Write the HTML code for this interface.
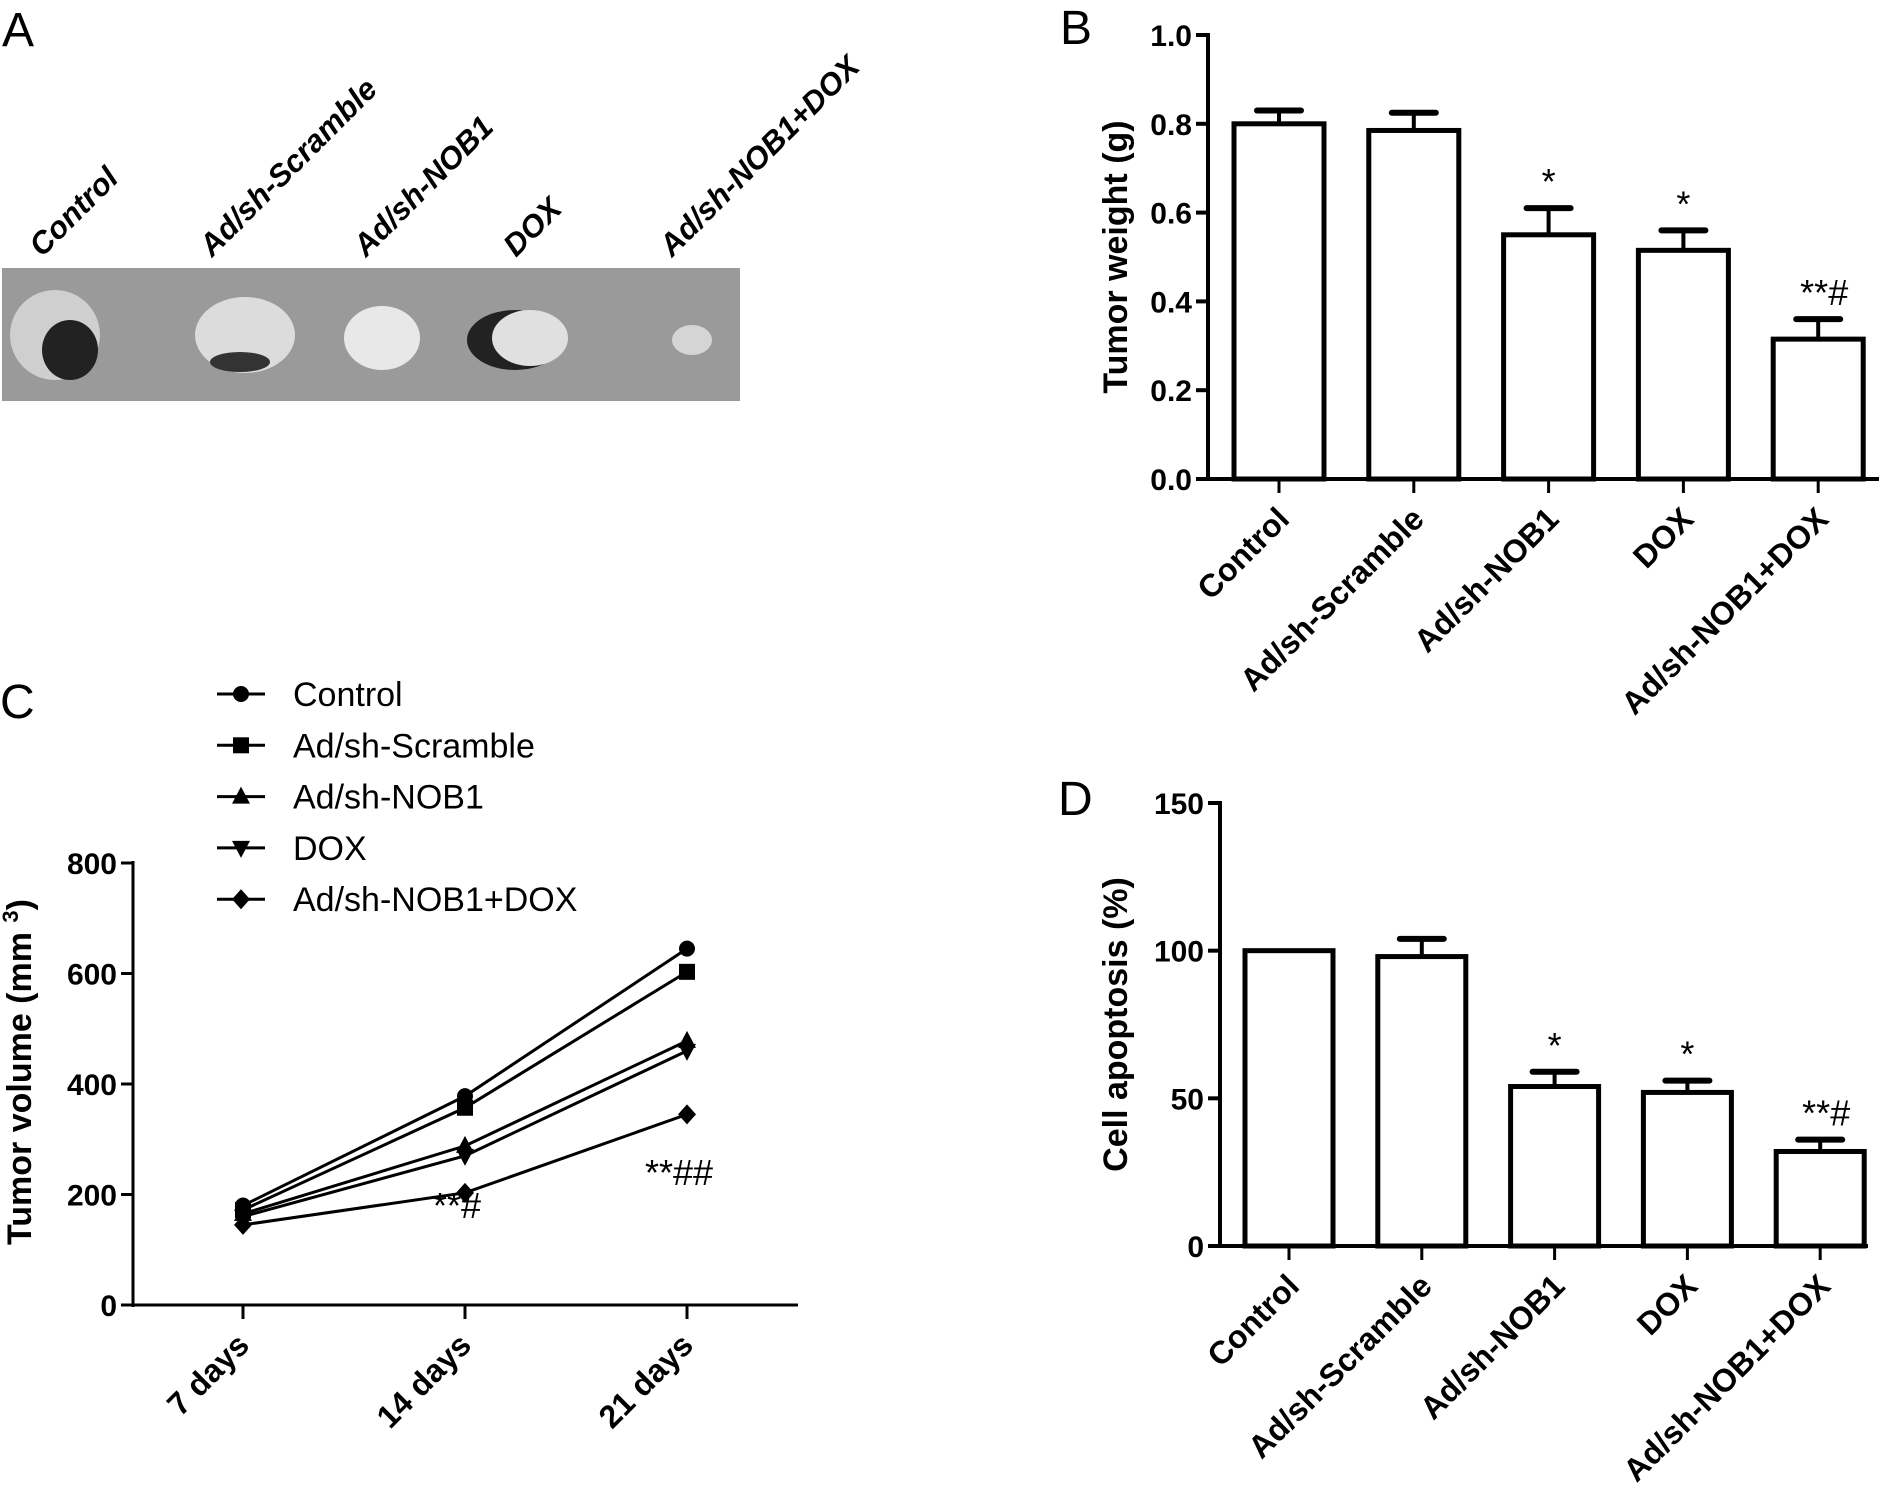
<!DOCTYPE html>
<html><head><meta charset="utf-8"><style>
html,body{margin:0;padding:0;background:#fff}
svg{display:block}
text{font-family:"Liberation Sans",sans-serif;fill:#000}
.tick{font-weight:bold;font-size:30px}
.ttl{font-weight:bold;font-size:34px}
.cat{font-weight:bold;font-size:32px}
.let{font-size:48px}
.ann{font-size:36px}
</style></head><body>
<svg id="fig" width="1890" height="1493" viewBox="0 0 1890 1493" xmlns="http://www.w3.org/2000/svg">
<text class="let" x="2" y="46">A</text>
<text class="let" x="1060" y="44">B</text>
<text class="let" x="0" y="718">C</text>
<text class="let" x="1058" y="815">D</text>
<g id="photo">
<rect x="2" y="268" width="738" height="133" fill="#9a9a9a"/>
<ellipse cx="55" cy="335" rx="45" ry="45" fill="#cfcfcf"/><ellipse cx="70" cy="350" rx="28" ry="30" fill="#222"/>
<ellipse cx="245" cy="335" rx="50" ry="38" fill="#dcdcdc"/><ellipse cx="240" cy="362" rx="30" ry="10" fill="#333"/>
<ellipse cx="382" cy="338" rx="38" ry="32" fill="#e8e8e8"/>
<ellipse cx="515" cy="340" rx="48" ry="30" fill="#222"/><ellipse cx="530" cy="338" rx="38" ry="28" fill="#e0e0e0"/>
<ellipse cx="692" cy="340" rx="20" ry="15" fill="#d5d5d5"/>
</g>
<g id="A-labels"></g>
<g id="B"></g><g id="C"></g><g id="D"></g>
</svg>
<script>
const photoLabels=["Control","Ad/sh-Scramble","Ad/sh-NOB1","DOX","Ad/sh-NOB1+DOX"];
const photoX=[42,212,366,516,672];
const cats=["Control","Ad/sh-Scramble","Ad/sh-NOB1","DOX","Ad/sh-NOB1+DOX"];
const weightVals=[0.80,0.785,0.55,0.515,0.315];
const weightErr=[0.03,0.04,0.06,0.045,0.045];
const weightMarks=["","","*","*","**#"];
const weightTicks=["0.0","0.2","0.4","0.6","0.8","1.0"];
const apopVals=[100,98,54,52,32];
const apopErr=[0,6,5,4,4];
const apopMarks=["","","*","*","**#"];
const apopTicks=["0","50","100","150"];
const days=["7 days","14 days","21 days"];
const volTicks=["0","200","400","600","800"];
const seriesNames=["Control","Ad/sh-Scramble","Ad/sh-NOB1","DOX","Ad/sh-NOB1+DOX"];
const volControl=[180,378,645];
const volScramble=[172,357,603];
const volNOB1=[165,288,478];
const volDOX=[160,270,460];
const volCombo=[145,203,345];
const volMarks=["","**#","**##"];
const NS="http://www.w3.org/2000/svg";
function mk(parent,tag,attrs,txt){const e=document.createElementNS(NS,tag);for(const k in attrs)e.setAttribute(k,attrs[k]);if(txt!==undefined)e.textContent=txt;parent.appendChild(e);return e;}
const AL=document.getElementById('A-labels');
photoLabels.forEach((l,i)=>{const t=mk(AL,'text',{x:photoX[i],y:258,transform:`rotate(-45 ${photoX[i]} 258)`,'font-weight':'bold','font-style':'italic','font-size':31},l);

});
function barChart(g,o){
  const y=v=>o.y0-(v/o.max)*(o.y0-o.y1);
  mk(g,'line',{x1:o.ax,y1:o.y1-2,x2:o.ax,y2:o.y0+2,stroke:'#000','stroke-width':4});
  mk(g,'line',{x1:o.ax-2,y1:o.y0,x2:o.xend,y2:o.y0,stroke:'#000','stroke-width':4});
  o.ticks.forEach((t,i)=>{const v=o.max*i/(o.ticks.length-1);const yy=y(v);
    mk(g,'line',{x1:o.ax-12,y1:yy,x2:o.ax,y2:yy,stroke:'#000','stroke-width':4});
    const tx=mk(g,'text',{x:o.ax-16,y:yy+11,'text-anchor':'end',class:'tick'},t);
    
    });
  const tt=mk(g,'text',{x:0,y:0,class:'ttl','text-anchor':'middle',transform:`translate(${o.titleX} ${(o.y0+o.y1)/2}) rotate(-90)`},o.title);
  
  
  o.vals.forEach((v,i)=>{const cx=o.c0+i*o.step;const w=o.bw;
    if(o.err[i]>0){mk(g,'line',{x1:cx,y1:y(v),x2:cx,y2:y(v+o.err[i]),stroke:'#000','stroke-width':4});
      mk(g,'line',{x1:cx-22,y1:y(v+o.err[i]),x2:cx+22,y2:y(v+o.err[i]),stroke:'#000','stroke-width':6,'stroke-linecap':'round'});}
    const r=mk(g,'rect',{x:cx-w/2,y:y(v),width:w,height:o.y0-y(v),fill:'#fff',stroke:'#000','stroke-width':5});
    
    
    mk(g,'line',{x1:cx,y1:o.y0,x2:cx,y2:o.y0+14,stroke:'#000','stroke-width':3});
    if(o.marks[i]){const m=mk(g,'text',{x:cx+(o.marks[i].length>1?6:0),y:y(v+o.err[i])-14,'text-anchor':'middle',class:'ann'},o.marks[i]);
      
      }
    const c=mk(g,'text',{x:cx+12,y:o.y0+42,'text-anchor':'end',class:'cat',transform:`rotate(-45 ${cx+12} ${o.y0+42})`},o.cats[i]);
    
    });
}
barChart(document.getElementById('B'),{ax:1208,y0:479,y1:35,max:1.0,xend:1879,c0:1279,step:134.8,bw:90,vals:weightVals,err:weightErr,marks:weightMarks,ticks:weightTicks,cats:cats,title:'Tumor weight (g)',titleX:1127});
barChart(document.getElementById('D'),{ax:1220,y0:1246,y1:803,max:150,xend:1868,c0:1289,step:132.8,bw:88,vals:apopVals,err:apopErr,marks:apopMarks,ticks:apopTicks,cats:cats,title:'Cell apoptosis (%)',titleX:1127});
// Panel C
(function(){
  const g=document.getElementById('C');
  const ax=133,y0=1305,y1=863,max=800,x0=243,dx=222;
  const y=v=>y0-(v/max)*(y0-y1);const x=i=>x0+i*dx;
  mk(g,'line',{x1:ax,y1:y1-2,x2:ax,y2:y0+2,stroke:'#000','stroke-width':3});
  mk(g,'line',{x1:ax-2,y1:y0,x2:798,y2:y0,stroke:'#000','stroke-width':3});
  volTicks.forEach((t,i)=>{const yy=y(max*i/(volTicks.length-1));
    mk(g,'line',{x1:ax-12,y1:yy,x2:ax,y2:yy,stroke:'#000','stroke-width':3});
    const tx=mk(g,'text',{x:ax-16,y:yy+11,'text-anchor':'end',class:'tick'},t);
    
    });
  days.forEach((d,i)=>{mk(g,'line',{x1:x(i),y1:y0,x2:x(i),y2:y0+14,stroke:'#000','stroke-width':3});
    const t=mk(g,'text',{x:x(i)+8,y:y0+42,'text-anchor':'end',class:'cat',transform:`rotate(-45 ${x(i)+8} ${y0+42})`},d);
    
    
    if(volMarks[i]){const m=mk(g,'text',{x:x(i)-8,y:i==1?1218:1185,'text-anchor':'middle',class:'ann'},volMarks[i]);
      
      }});
  const tt=mk(g,'text',{x:0,y:0,class:'ttl','text-anchor':'middle',transform:`translate(31 1072) rotate(-90)`},'Tumor volume (mm ');
  mk(tt,'tspan',{'font-size':22,dy:-13},'3');mk(tt,'tspan',{dy:13},')');
  
  
  const series=[volControl,volScramble,volNOB1,volDOX,volCombo];
  function marker(p,k,cx,cy){
    if(k==0)return mk(p,'circle',{cx,cy,r:8});
    if(k==1)return mk(p,'rect',{x:cx-8,y:cy-8,width:16,height:16});
    if(k==2)return mk(p,'polygon',{points:`${cx},${cy-10} ${cx+9},${cy+7} ${cx-9},${cy+7}`});
    if(k==3)return mk(p,'polygon',{points:`${cx},${cy+10} ${cx+9},${cy-7} ${cx-9},${cy-7}`});
    return mk(p,'polygon',{points:`${cx},${cy-10} ${cx+9},${cy} ${cx},${cy+10} ${cx-9},${cy}`});
  }
  series.forEach((s,k)=>{const sg=mk(g,'g',{});
    
    
    mk(sg,'polyline',{points:s.map((v,i)=>x(i)+','+y(v)).join(' '),fill:'none',stroke:'#000','stroke-width':3});
    s.forEach((v,i)=>marker(sg,k,x(i),y(v)));
    const ly=694+k*51.3;const le=mk(g,'g',{});
    
    
    mk(le,'line',{x1:217,y1:ly,x2:265,y2:ly,stroke:'#000','stroke-width':3});
    marker(le,k,241,ly);
    mk(le,'text',{x:293,y:ly+12,'font-size':34},seriesNames[k]);});
})();
</script>
</body></html>
